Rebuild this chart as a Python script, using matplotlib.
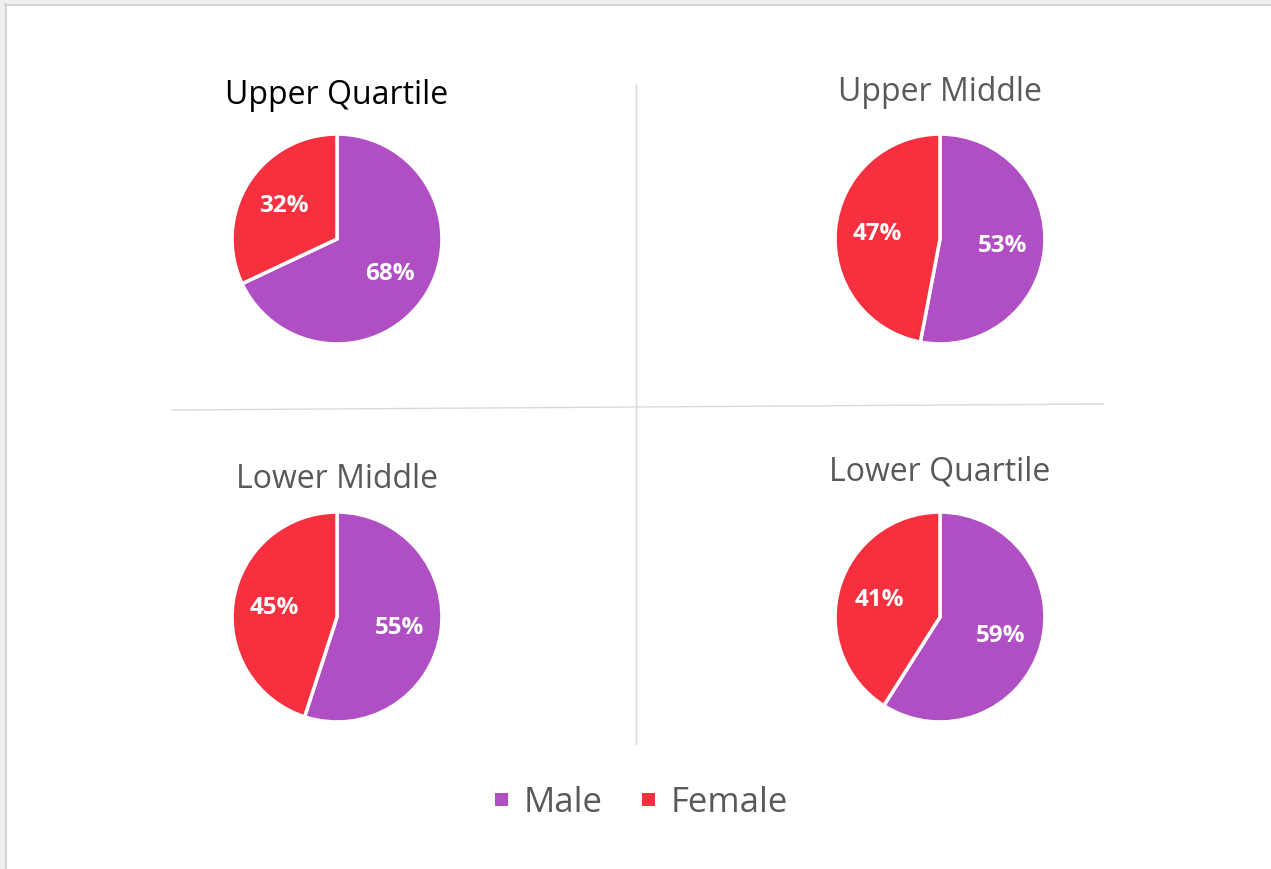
import matplotlib.pyplot as plt
from matplotlib.patches import Rectangle

plt.rcParams['font.family'] = ['Open Sans', 'DejaVu Sans']

# Datos
titulos = ['Upper Quartile', 'Upper Middle', 'Lower Middle', 'Lower Quartile']
hombres = [68, 53, 55, 59]
mujeres = [32, 47, 45, 41]
series = ['Male', 'Female']
colores = ['#b04fc4', '#f73040']
color_titulo = ['#000000', '#595959', '#595959', '#595959']

W, H = 1271, 870
fig = plt.figure(figsize=(W / 100, H / 100), dpi=100)

# Capa de fondo en coordenadas de píxel
bg = fig.add_axes([0, 0, 1, 1])
bg.set_xlim(0, W)
bg.set_ylim(H, 0)
bg.axis('off')
bg.add_patch(Rectangle((0, 0), W, 5, color='#efefef', lw=0))
bg.add_patch(Rectangle((0, 0), 5, H, color='#efefef', lw=0))
bg.plot([5, W], [5.5, 5.5], color='#d6d6d6', lw=1.5)
bg.plot([5.5, 5.5], [5, H], color='#d6d6d6', lw=1.5)
# Líneas divisorias
bg.plot([636, 636], [85, 745], color='#d9d9d9', lw=1)
bg.plot([172, 1103], [411, 405], color='#d9d9d9', lw=1)

centros = [(337, 240), (940, 240), (337, 618), (940, 618)]
base_titulo = [(337, 104), (940, 101), (337, 488), (940, 481)]
radio = 106

for i in range(4):
    cx, cy = centros[i]
    ax = fig.add_axes([(cx - radio) / W, (H - cy - radio) / H, 2 * radio / W, 2 * radio / H])
    ax.pie([hombres[i], mujeres[i]], colors=colores, startangle=90, counterclock=False,
           autopct='%1.0f%%', pctdistance=0.6,
           wedgeprops={'edgecolor': 'white', 'linewidth': 2.5},
           textprops={'color': 'white', 'fontsize': 17.5, 'fontweight': 'bold'})
    ax.set_xlim(-1.01, 1.01)
    ax.set_ylim(-1.01, 1.01)
    tx, ty = base_titulo[i]
    bg.text(tx, ty, titulos[i], ha='center', va='baseline', fontsize=23, color=color_titulo[i])

# Leyenda
bg.add_patch(Rectangle((495, 794), 13, 13, color=colores[0], lw=0))
bg.text(524, 812, series[0], ha='left', va='baseline', fontsize=25, color='#595959')
bg.add_patch(Rectangle((642, 794), 13, 13, color=colores[1], lw=0))
bg.text(671, 812, series[1], ha='left', va='baseline', fontsize=25, color='#595959')

fig.savefig('out.png', dpi=100)
